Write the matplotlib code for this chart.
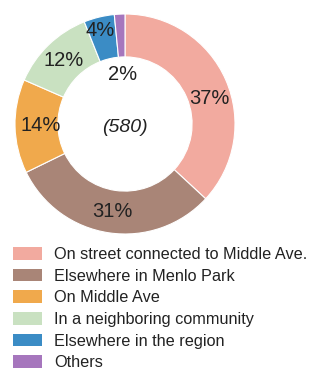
import numpy as np
import matplotlib.pyplot as plt
from matplotlib.patches import Patch

plt.rcParams['font.family'] = ['Liberation Sans', 'DejaVu Sans']

categories = [
    "On street connected to Middle Ave.",
    "Elsewhere in Menlo Park",
    "On Middle Ave",
    "In a neighboring community",
    "Elsewhere in the region",
    "Others",
]
# estimated respondent counts (total 580)
counts = [214, 179, 80, 72, 26, 9]
total = sum(counts)
pct_labels = [f"{round(100 * c / total)}%" for c in counts]

colors = ["#f2aa9f", "#a98577", "#f0a94c", "#c9e1c1", "#3b8cc5", "#a676bd"]
label_radius = [0.8, 0.8, 0.77, 0.8, 0.88, 0.45]
label_shift = [-7, 0, 0, 0, 1, 0]

fig = plt.figure(figsize=(3.18, 3.77), dpi=100)
ax = fig.add_axes([15 / 318, 1 - 234 / 377, 220 / 318, 220 / 377])

wedges, _ = ax.pie(counts, colors=colors, startangle=90, counterclock=False,
                   radius=1.0, wedgeprops=dict(width=0.39, edgecolor="white", linewidth=0.8))

for w, lab, r, sh in zip(wedges, pct_labels, label_radius, label_shift):
    mid = np.deg2rad((w.theta1 + w.theta2) / 2 + sh)
    ax.text(r * np.cos(mid), r * np.sin(mid), lab, ha="center", va="center",
            fontsize=14.5, color="#222222")

ax.text(0, -0.03, f"({total})", ha="center", va="center", fontsize=14,
        style="italic", color="#222222")
ax.set_xlim(-1, 1)
ax.set_ylim(-1, 1)
ax.set_aspect("equal")
ax.axis("off")

handles = [Patch(facecolor=c, edgecolor="none") for c in colors]
fig.legend(handles, categories, loc="upper left", bbox_to_anchor=(13 / 318, 1 - 247 / 377),
           frameon=False, fontsize=11.7, borderpad=0, borderaxespad=0,
           handlelength=1.81, handleheight=0.83, handletextpad=0.71, labelspacing=0.41,
           labelcolor="#222222")

fig.savefig("out.png", dpi=100)
